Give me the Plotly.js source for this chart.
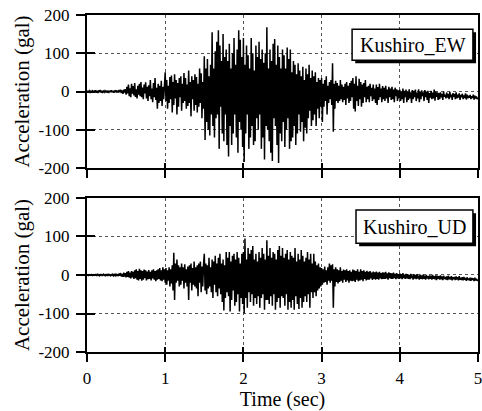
<!DOCTYPE html>
<html><head><meta charset="utf-8">
<script src="https://cdn.plot.ly/plotly-3.0.1.min.js"></script>
<style>html,body{margin:0;padding:0;background:#fff}#chart{width:482px;height:411px}</style>
</head><body><div id="chart"></div>
<script>
// sampling step of the digitised records (sec)
const dt = 0.01;
// Kushiro EW acceleration (gal), 0.1 s per row
const ewAcc = [
 0, 1, -1, 2, -2, 1, -1, 2, -1, 1,
 -2, 3, -3, 2, -4, 3, -2, 4, -3, 2,
 -2, 1, -2, 2, -1, 2, -3, 1, -2, 2,
 -2, 3, -2, 2, -3, 1, -2, 3, -1, 2,
 -3, 4, -2, 5, -4, 3, -6, 5, -3, 6,
 -8, 12, -5, 18, -12, 8, -15, 20, -6, 14,
 -10, 22, -14, 6, -18, 15, -8, 20, -12, 25,
 -15, 10, -20, 18, -5, 24, -18, 12, -25, 16,
 -12, 30, -20, 8, -28, 22, -15, 35, -22, 10,
 -45, 20, -30, 15, -25, 28, -38, 12, -20, 25,
 50, -25, 30, -45, 15, -30, 38, -20, 42, -55,
 25, -35, 45, -18, 30, -60, 22, -40, 35, -15,
 40, -50, 20, -30, 48, -25, 35, -45, 18, -38,
 55, -30, 25, -65, 40, -20, 30, -50, 45, -35,
 38, -55, 20, -40, 60, -30, 48, -70, 25, -45,
 92, -127, 60, -80, 85, -100, 40, -115, 70, -60,
 155, -90, 60, -120, 105, -70, 130, -60, 160, -150,
 120, -40, 80, -110, 150, -130, 90, -60, 110, -140,
 80, -170, 125, -90, 60, -140, 100, -110, 140, -60,
 70, -120, 110, -160, 160, -80, 135, -100, 90, -145,
 140, -184, 70, -110, 120, -60, 95, -150, 60, -120,
 140, -90, 100, -140, 55, -130, 120, -70, 90, -100,
 130, -60, 85, -150, 110, -120, 75, -178, 100, -90,
 168, -100, 60, -130, 110, -160, 80, -182, 125, -70,
 137, -90, 70, -140, 120, -187, 90, -110, 60, -130,
 110, -80, 95, -145, 60, -100, 115, -70, 85, -150,
 110, -130, 50, -120, 80, -90, 70, -140, 45, -110,
 74, -60, 55, -105, 40, -80, 65, -130, 30, -95,
 60, -110, 45, -70, 70, -50, 35, -90, 55, -75,
 40, -60, 50, -90, 25, -45, 35, -70, 30, -40,
 35, -80, 20, -40, 30, -25, 40, -60, 15, -30,
 25, -20, 30, -35, 74, -105, 20, -45, 28, -25,
 22, -30, 15, -25, 30, -20, 18, -28, 12, -22,
 20, -35, 25, -18, 15, -30, 22, -25, 28, -15,
 35, -45, 20, -52, 40, -25, 15, -38, 33, -20,
 25, -40, 18, -30, 22, -15, 30, -28, 12, -20,
 15, -28, 20, -12, 10, -25, 18, -20, 8, -30,
 18, -35, 12, -22, 20, -15, 8, -28, 14, -20,
 10, -25, 15, -18, 5, -30, 12, -15, 8, -22,
 12, -20, 5, -28, 10, -12, 6, -25, 3, -18,
 5, -25, 0, -20, 8, -30, 2, -15, 5, -28,
 0, -22, 6, -18, -2, -30, 4, -20, 2, -15,
 5, -25, -3, -18, 6, -28, 0, -20, 3, -12,
 -2, -25, 4, -15, 0, -22, 2, -30, -4, -16,
 2, -20, -3, -18, 5, -24, 0, -14, -2, -22,
 -4, -20, -2, -15, -6, -22, 0, -14, -8, -18,
 -3, -16, -6, -20, -1, -15, -8, -22, -4, -14,
 -6, -20, -2, -18, -8, -16, -5, -22, -9, -15,
 -6, -20, -10, -17, -5, -21, -8, -18, -11, -16,
 -9, -20, -12, -17, -8, -21, -11, -18, -13, -20,
 -16
];
// Kushiro UD acceleration (gal), 0.1 s per row
const udAcc = [
 0, 1, -1, 1, 0, -1, 1, -1, 1, 0,
 -1, 1, -1, 2, -1, 1, -2, 1, -1, 1,
 -1, 2, -1, 1, -2, 1, -1, 2, -1, 1,
 -2, 1, -1, 2, -2, 1, -2, 2, -1, 2,
 -3, 4, -2, 5, -4, 3, -5, 6, -4, 5,
 -6, 8, -5, 10, -7, 6, -9, 10, -6, 8,
 -10, 12, -8, 15, -12, 10, -14, 16, -10, 12,
 -15, 10, -12, 14, -8, 12, -14, 9, -11, 13,
 -10, 8, -14, 12, -9, 15, -12, 10, -16, 12,
 -12, 15, -10, 18, -14, 12, -16, 20, -12, 15,
 -20, 18, -25, 12, -15, 20, -30, 15, -22, 25,
 -40, 58, -65, 30, -20, 40, -15, 25, -30, 20,
 -25, 30, -15, 20, -35, 28, -20, 15, -30, 22,
 -65, 25, -20, 30, -40, 18, -25, 35, -30, 20,
 -35, 25, -55, 30, -20, 35, -45, 22, -30, 28,
 55, -40, 30, -50, 25, -35, 45, -30, 20, -45,
 40, -60, 35, -25, 50, -45, 30, -55, 45, -35,
 55, -50, 30, -70, 40, -92, 25, -60, 60, -45,
 45, -55, 60, -95, 35, -65, 50, -40, 55, -80,
 40, -70, 60, -50, 45, -95, 30, -60, 55, -75,
 60, -100, 95, -60, 40, -85, 70, -45, 55, -70,
 65, -50, 75, -80, 40, -60, 55, -75, 35, -55,
 60, -85, 45, -60, 70, -50, 55, -90, 40, -65,
 90, -65, 50, -75, 70, -55, 45, -80, 60, -50,
 55, -90, 40, -70, 65, -60, 75, -85, 50, -55,
 70, -60, 45, -80, 55, -50, 65, -90, 40, -70,
 60, -85, 50, -65, 45, -90, 70, -55, 35, -75,
 55, -88, 40, -60, 65, -85, 50, -70, 35, -55,
 45, -70, 60, -50, 40, -85, 55, -45, 30, -60,
 55, -45, 35, -55, 25, -40, 30, -35, 20, -30,
 18, -25, 15, -20, 22, -18, 12, -25, 20, -15,
 30, -20, 25, -15, 28, -85, 15, -30, 20, -18,
 15, -22, 12, -18, 20, -15, 10, -20, 14, -12,
 12, -18, 15, -14, 10, -20, 12, -15, 8, -16,
 14, -15, 12, -18, 10, -12, 15, -16, 8, -14,
 15, -12, 10, -16, 12, -10, 8, -14, 11, -12,
 8, -12, 10, -9, 6, -13, 9, -10, 7, -12,
 9, -10, 6, -12, 8, -9, 5, -11, 7, -10,
 6, -10, 8, -9, 4, -12, 7, -8, 5, -10,
 4, -10, 6, -8, 3, -11, 5, -9, 2, -10,
 4, -9, 2, -11, 5, -8, 1, -10, 3, -9,
 2, -10, 0, -11, 3, -8, -1, -12, 2, -9,
 0, -11, 2, -9, -2, -12, 1, -10, -1, -11,
 1, -10, -2, -12, 0, -9, -3, -11, -1, -10,
 -2, -12, 0, -10, -3, -11, -1, -13, -2, -10,
 -3, -12, -1, -11, -4, -13, -2, -10, -5, -12,
 -4, -13, -2, -11, -5, -12, -3, -14, -6, -11,
 -5, -13, -4, -12, -6, -14, -3, -12, -7, -13,
 -6, -14, -5, -12, -8, -15, -6, -13, -9, -14,
 -7, -15, -8, -13, -9, -16, -7, -14, -10, -15,
 -12
];
const stationLabels = ['Kushiro_EW', 'Kushiro_UD'];
const xTickVals = [0, 1, 2, 3, 4, 5];
const xTickText = ['0', '1', '2', '3', '4', '5'];
const yTickVals = [-200, -100, 0, 100, 200];
const yTickText = ['-200', '-100', '0', '100', '200'];
const xRange = [0, 5];
const yRange = [-200, 200];

const FONT = 'Liberation Serif';
const tickFont = {family: FONT, size: 17, color: '#000'};
const titleFont = {family: FONT, size: 21, color: '#000'};
const xTitleFont = {family: FONT, size: 20, color: '#000'};
const boxFont = {family: FONT, size: 20, color: '#000'};
const traces = [
  {x0: 0, dx: dt, y: ewAcc, type: 'scatter', mode: 'lines', xaxis: 'x', yaxis: 'y',
   line: {color: '#000', width: 1.5}, hoverinfo: 'skip'},
  {x0: 0, dx: dt, y: udAcc, type: 'scatter', mode: 'lines', xaxis: 'x2', yaxis: 'y2',
   line: {color: '#000', width: 1.5}, hoverinfo: 'skip'},
  {x: [], y: [], type: 'scatter', xaxis: 'x3', yaxis: 'y3', showlegend: false},
  {x: [], y: [], type: 'scatter', xaxis: 'x4', yaxis: 'y4', showlegend: false}
];

const baseX = {range: xRange, tickmode: 'array', tickvals: xTickVals, ticktext: xTickText,
  tickfont: tickFont,
  showgrid: true, gridcolor: '#555', griddash: 'dot', gridwidth: 1, zeroline: false,
  showline: true, linecolor: '#000', linewidth: 2, mirror: true,
  ticks: 'outside', ticklen: 8, tickwidth: 2, tickcolor: '#000', fixedrange: true,
  ticklabeloverflow: 'allow', ticklabelstandoff: 2};
const baseY = {range: yRange, tickmode: 'array', tickvals: yTickVals, ticktext: yTickText,
  tickfont: tickFont,
  showgrid: true, gridcolor: '#555', griddash: 'dot', gridwidth: 1, zeroline: false,
  showline: true, linecolor: '#000', linewidth: 2, mirror: true,
  ticks: 'outside', ticklen: 9, tickwidth: 2, tickcolor: '#000', fixedrange: true,
  ticklabelstandoff: 3};
const crossX = {range: xRange, tickmode: 'array', tickvals: xTickVals, showticklabels: false,
  showgrid: false, zeroline: false, showline: false, ticks: 'inside', ticklen: 5, tickwidth: 2,
  tickcolor: '#000', fixedrange: true};
const crossY = {range: yRange, tickmode: 'array', tickvals: yTickVals, showticklabels: false,
  showgrid: false, zeroline: false, showline: false, ticks: 'inside', ticklen: 8, tickwidth: 2,
  tickcolor: '#000', fixedrange: true};

const topDom = [0.546, 1];
const botDom = [0, 0.457];
const layout = {
  width: 482, height: 411,
  margin: {l: 87, r: 4, t: 15, b: 59},
  paper_bgcolor: '#fff', plot_bgcolor: '#fff',
  font: {family: FONT, size: 17, color: '#000'},
  showlegend: false,
  xaxis: Object.assign({}, baseX, {anchor: 'y', showticklabels: false}),
  yaxis: Object.assign({}, baseY, {domain: topDom, anchor: 'x',
    title: {text: 'Acceleration (gal)', font: titleFont, standoff: 3}}),
  xaxis2: Object.assign({}, baseX, {anchor: 'y2',
    title: {text: 'Time (sec)', font: xTitleFont, standoff: 12}}),
  yaxis2: Object.assign({}, baseY, {domain: botDom, anchor: 'x2',
    title: {text: 'Acceleration (gal)', font: titleFont, standoff: 3}}),
  xaxis3: Object.assign({}, crossX, {overlaying: 'x', anchor: 'y3'}),
  yaxis3: Object.assign({}, crossY, {overlaying: 'y', anchor: 'x3'}),
  xaxis4: Object.assign({}, crossX, {overlaying: 'x2', anchor: 'y4'}),
  yaxis4: Object.assign({}, crossY, {overlaying: 'y2', anchor: 'x4'}),
  shapes: [
    {type: 'rect', xref: 'paper', yref: 'paper', x0: 0.686, x1: 0.995, y0: 0.857, y1: 0.949,
     fillcolor: '#000', line: {width: 0}, layer: 'above'},
    {type: 'rect', xref: 'paper', yref: 'paper', x0: 0.678, x1: 0.987, y0: 0.866, y1: 0.958,
     fillcolor: '#fff', line: {color: '#000', width: 1.5}, layer: 'above'},
    {type: 'rect', xref: 'paper', yref: 'paper', x0: 0.696, x1: 0.995, y0: 0.314, y1: 0.412,
     fillcolor: '#000', line: {width: 0}, layer: 'above'},
    {type: 'rect', xref: 'paper', yref: 'paper', x0: 0.688, x1: 0.987, y0: 0.323, y1: 0.421,
     fillcolor: '#fff', line: {color: '#000', width: 1.5}, layer: 'above'}
  ],
  annotations: [
    {text: stationLabels[0], xref: 'paper', yref: 'paper', x: 0.8325, y: 0.912,
     xanchor: 'center', yanchor: 'middle', showarrow: false, font: boxFont},
    {text: stationLabels[1], xref: 'paper', yref: 'paper', x: 0.8375, y: 0.372,
     xanchor: 'center', yanchor: 'middle', showarrow: false, font: boxFont}
  ]
};
Plotly.newPlot('chart', traces, layout, {staticPlot: true, displayModeBar: false});
</script>
</body></html>
